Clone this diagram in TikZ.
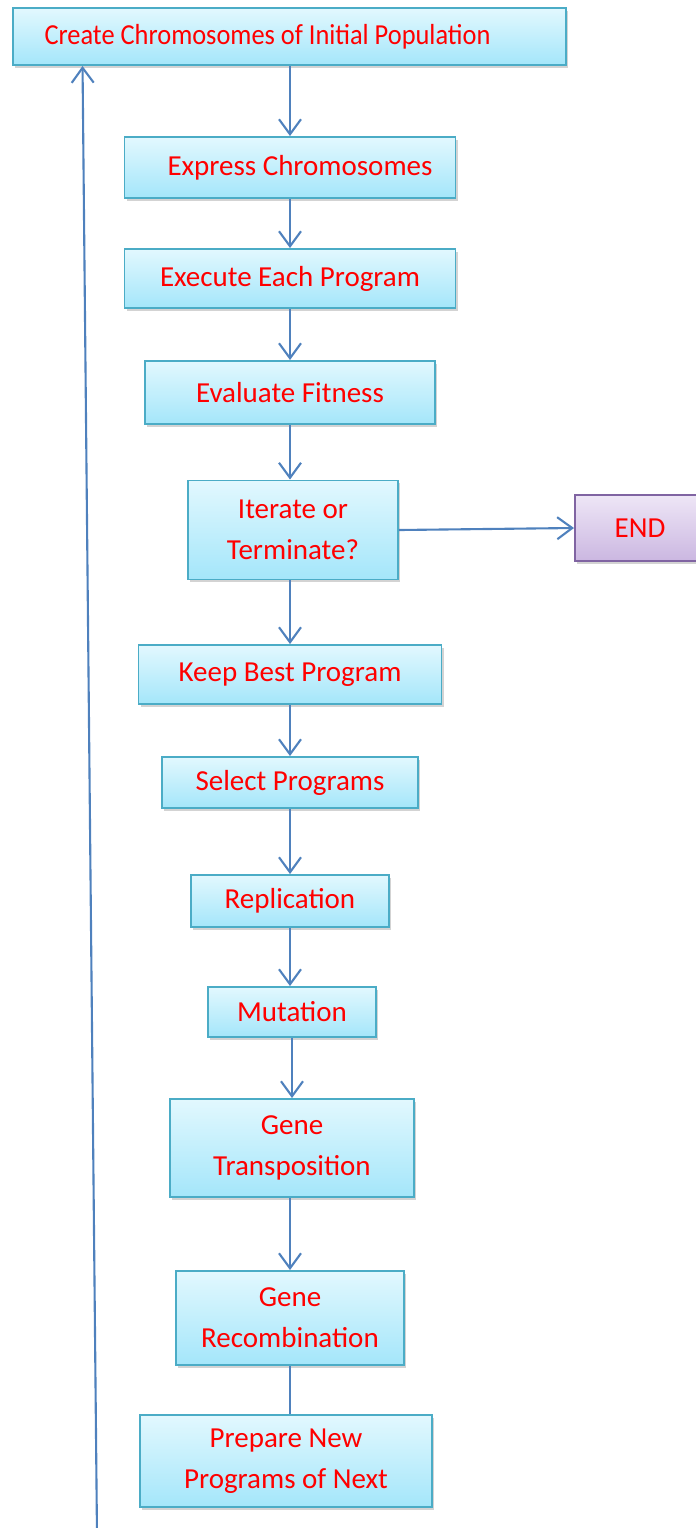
\documentclass[tikz,border=0pt]{standalone}
\usepackage{fontspec}
\setmainfont{Carlito}
\usetikzlibrary{arrows.meta,calc,shadows}

\definecolor{boxtop}{HTML}{E2F8FE}
\definecolor{boxbot}{HTML}{A4E6FA}
\definecolor{boxline}{HTML}{4BACC6}
\definecolor{endtop}{HTML}{EEE6F6}
\definecolor{endbot}{HTML}{CBB7E1}
\definecolor{endline}{HTML}{8064A2}
\definecolor{arrblue}{HTML}{4F81BD}

\begin{document}
\begin{tikzpicture}[
    stepbox/.style={draw=boxline, line width=1.1pt, rectangle, top color=boxtop, bottom color=boxbot,
        text=red, align=center, font=\fontsize{16.5pt}{23.5pt}\selectfont,
        drop shadow={shadow xshift=1.2pt, shadow yshift=-1.6pt, opacity=0.35}},
    endbox/.style={stepbox, draw=endline, top color=endtop, bottom color=endbot},
    arr/.style={-{Straight Barb[length=0.3cm, width=0.44cm]}, line width=1.2pt, arrblue},
    link/.style={line width=1.2pt, arrblue}
]
\useasboundingbox (0,0) rectangle (13.92,-30.56);

% Main chain
\node[stepbox, minimum width=11.06cm, minimum height=1.14cm] (create) at (5.79,-0.73) {\scalebox{0.91}[1]{Create Chromosomes of Initial Population}\hspace*{0.88cm}};
\node[stepbox, minimum width=6.62cm, minimum height=1.22cm] (express) at (5.8,-3.35) {\hspace*{0.4cm}Express Chromosomes};
\node[stepbox, minimum width=6.62cm, minimum height=1.18cm] (execute) at (5.8,-5.57) {Execute Each Program};
\node[stepbox, minimum width=5.80cm, minimum height=1.26cm] (evaluate) at (5.8,-7.85) {Evaluate Fitness};
\node[stepbox, minimum width=4.20cm, minimum height=1.98cm] (iterate) at (5.86,-10.6) {Iterate or\\Terminate?};
\node[endbox, minimum width=2.6cm, minimum height=1.32cm] (finish) at (12.8,-10.56) {END};
\node[stepbox, minimum width=6.06cm, minimum height=1.18cm] (keep) at (5.8,-13.49) {Keep Best Program};
\node[stepbox, minimum width=5.12cm, minimum height=1.02cm] (select) at (5.8,-15.65) {Select Programs};
\node[stepbox, minimum width=3.96cm, minimum height=1.04cm] (replic) at (5.8,-18.02) {Replication};
\node[stepbox, minimum width=3.36cm, minimum height=1.00cm] (mutat) at (5.84,-20.24) {Mutation};
\node[stepbox, minimum width=4.88cm, minimum height=1.96cm] (transp) at (5.84,-22.96) {Gene\\Transposition};
\node[stepbox, minimum width=4.56cm, minimum height=1.88cm] (recomb) at (5.8,-26.36) {Gene\\Recombination};
\node[stepbox, minimum width=5.84cm, minimum height=1.84cm] (prepare) at (5.72,-29.22) {Prepare New\\Programs of Next};

% Arrows down the chain
\draw[arr] (create.south -| express) -- (express);
\draw[arr] (express) -- (execute);
\draw[arr] (execute) -- (evaluate);
\draw[arr] (evaluate) -- (evaluate |- iterate.north);
\draw[arr] (iterate.south -| keep) -- (keep);
\draw[arr] (keep) -- (select);
\draw[arr] (select) -- (replic);
\draw[arr] (replic) -- (replic |- mutat.north);
\draw[arr] (mutat) -- (transp);
\draw[arr] (transp.south -| recomb) -- (recomb);
\draw[link] (recomb) -- (recomb |- prepare.north);

% Exit
\draw[arr] (iterate.east) -- (finish.west);

% Loop back
\coordinate (loopstart) at (1.94,-30.7);
\draw[arr] (loopstart) -- ($(create.south west)+(1.41,0)$);

\end{tikzpicture}
\end{document}
